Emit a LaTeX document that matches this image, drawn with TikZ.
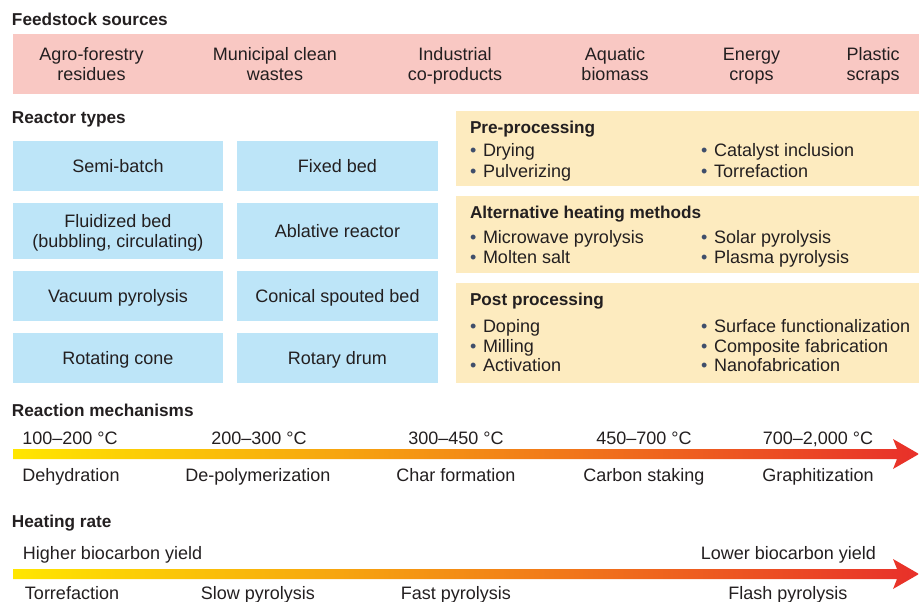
\documentclass[tikz,border=0pt]{standalone}
\usepackage{fontspec}
\setmainfont{Liberation Sans}
\definecolor{ink}{HTML}{231F20}
\definecolor{feedpink}{HTML}{F9C8C3}
\definecolor{reactorblue}{HTML}{BDE5F8}
\definecolor{procyellow}{HTML}{FDEBBF}
\definecolor{bulletgray}{HTML}{3F4E6B}
\definecolor{gradyellow}{HTML}{FFE600}
\definecolor{gradorange}{HTML}{F7941D}
\definecolor{gradred}{HTML}{E8302A}

\newcommand{\bodyfont}{\fontsize{18}{20}\selectfont}
\newcommand{\titlefont}{\bfseries\fontsize{17.2}{20}\selectfont}
% two centred lines, aligned on the baseline of the first one
\newcommand{\pair}[2]{\begin{tabular}[t]{@{}c@{}}#1\\#2\end{tabular}}
% bullet item
\newcommand{\itm}[1]{\makebox[13pt][l]{\textcolor{bulletgray}{•}}#1}

\begin{document}
\begin{tikzpicture}[x=1pt,y=-1pt,
  every node/.style={inner sep=0pt, outer sep=0pt, text=ink, font=\bodyfont},
  sectitle/.style={font=\titlefont, anchor=base west},
  feedlabel/.style={anchor=base},
  reactor/.style={fill=reactorblue, text height=12.9pt, text depth=0pt, align=center},
  procbox/.style={fill=procyellow, anchor=north west, minimum width=463pt},
  item/.style={anchor=base west},
  scale label/.style={anchor=base},
  gradarrow/.style={left color=gradyellow, middle color=gradorange, right color=gradred}
]
\useasboundingbox (0,0) rectangle (919,602);

% ---------- feedstock sources ----------
\node[sectitle] (feedtitle) at (12,26) {Feedstock sources};
\node[fill=feedpink, anchor=north west, minimum width=906pt, minimum height=60pt] (feedband) at (13,34) {};
\node[feedlabel] (agro)  at (91.5,61) {\pair{Agro-forestry}{residues}};
\node[feedlabel] (muni)  at (275,61)  {\pair{Municipal clean}{wastes}};
\node[feedlabel] (indus) at (455,61)  {\pair{Industrial}{co-products}};
\node[feedlabel] (aqua)  at (615,61)  {\pair{Aquatic}{biomass}};
\node[feedlabel] (energ) at (751.5,61){\pair{Energy}{crops}};
\node[feedlabel] (plast) at (873,61)  {\pair{Plastic}{scraps}};

% ---------- reactor types ----------
\node[sectitle] (reacttitle) at (12,123) {Reactor types};
\node[reactor, minimum width=210pt, minimum height=50pt] (semib) at (118,166) {Semi-batch};
\node[reactor, minimum width=201pt, minimum height=50pt] (fixed) at (337.5,166) {Fixed bed};
\node[reactor, minimum width=210pt, minimum height=56pt, text depth=20pt] (fluid) at (118,231) {\pair{Fluidized bed}{(bubbling, circulating)}};
\node[reactor, minimum width=201pt, minimum height=56pt] (ablat) at (337.5,231) {Ablative reactor};
\node[reactor, minimum width=210pt, minimum height=50pt] (vacuum) at (118,296) {Vacuum pyrolysis};
\node[reactor, minimum width=201pt, minimum height=50pt] (conic) at (337.5,296) {Conical spouted bed};
\node[reactor, minimum width=210pt, minimum height=50pt] (rotcone) at (118,358) {Rotating cone};
\node[reactor, minimum width=201pt, minimum height=50pt] (rotdrum) at (337.5,358) {Rotary drum};

% ---------- processing boxes ----------
\node[procbox, minimum height=75pt] (prebox) at (456,111) {};
\node[sectitle] (pretitle) at (470,133) {Pre-processing};
\node[item] (dry)  at (470,157) {\itm{Drying}};
\node[item] (pulv) at (470,177) {\itm{Pulverizing}};
\node[item] (cata) at (701,157) {\itm{Catalyst inclusion}};
\node[item] (torr) at (701,177) {\itm{Torrefaction}};

\node[procbox, minimum height=77pt] (heatbox) at (456,196) {};
\node[sectitle] (heattitle) at (470,218) {Alternative heating methods};
\node[item] (micro)  at (470,243) {\itm{Microwave pyrolysis}};
\node[item] (molten) at (470,263) {\itm{Molten salt}};
\node[item] (solar)  at (701,243) {\itm{Solar pyrolysis}};
\node[item] (plasma) at (701,263) {\itm{Plasma pyrolysis}};

\node[procbox, minimum height=100pt] (postbox) at (456,283) {};
\node[sectitle] (posttitle) at (470,305) {Post processing};
\node[item] (doping) at (470,332) {\itm{Doping}};
\node[item] (mill)   at (470,352) {\itm{Milling}};
\node[item] (activ)  at (470,371) {\itm{Activation}};
\node[item] (surf)   at (701,332) {\itm{Surface functionalization}};
\node[item] (compo)  at (701,352) {\itm{Composite fabrication}};
\node[item] (nano)   at (701,371) {\itm{Nanofabrication}};

% ---------- reaction mechanisms ----------
\node[sectitle] (mechtitle) at (12,416) {Reaction mechanisms};
\node[scale label] (t1) at (70,444)  {100–200 °C};
\node[scale label] (t2) at (259,444) {200–300 °C};
\node[scale label] (t3) at (456,444) {300–450 °C};
\node[scale label] (t4) at (644,444) {450–700 °C};
\node[scale label] (t5) at (818,444) {700–2,000 °C};
\shade[gradarrow] (13,449) -- (897,449) -- (893,439) -- (919,454) -- (893,469) -- (897,459) -- (13,459) -- cycle;
\node[scale label] (m1) at (71,481)  {Dehydration};
\node[scale label] (m2) at (258,481) {De-polymerization};
\node[scale label] (m3) at (456,481) {Char formation};
\node[scale label] (m4) at (644,481) {Carbon staking};
\node[scale label] (m5) at (818,481) {Graphitization};

% ---------- heating rate ----------
\node[sectitle] (ratetitle) at (12,527) {Heating rate};
\node[anchor=base west] (higher) at (23,559) {Higher biocarbon yield};
\node[anchor=base east] (lower) at (876,559) {Lower biocarbon yield};
\shade[gradarrow] (13,569) -- (897,569) -- (893,559) -- (919,574) -- (893,589) -- (897,579) -- (13,579) -- cycle;
\node[scale label] (r1) at (72,599)  {Torrefaction};
\node[scale label] (r2) at (258,599) {Slow pyrolysis};
\node[scale label] (r3) at (456,599) {Fast pyrolysis};
\node[scale label] (r4) at (788,599) {Flash pyrolysis};
\end{tikzpicture}
\end{document}
